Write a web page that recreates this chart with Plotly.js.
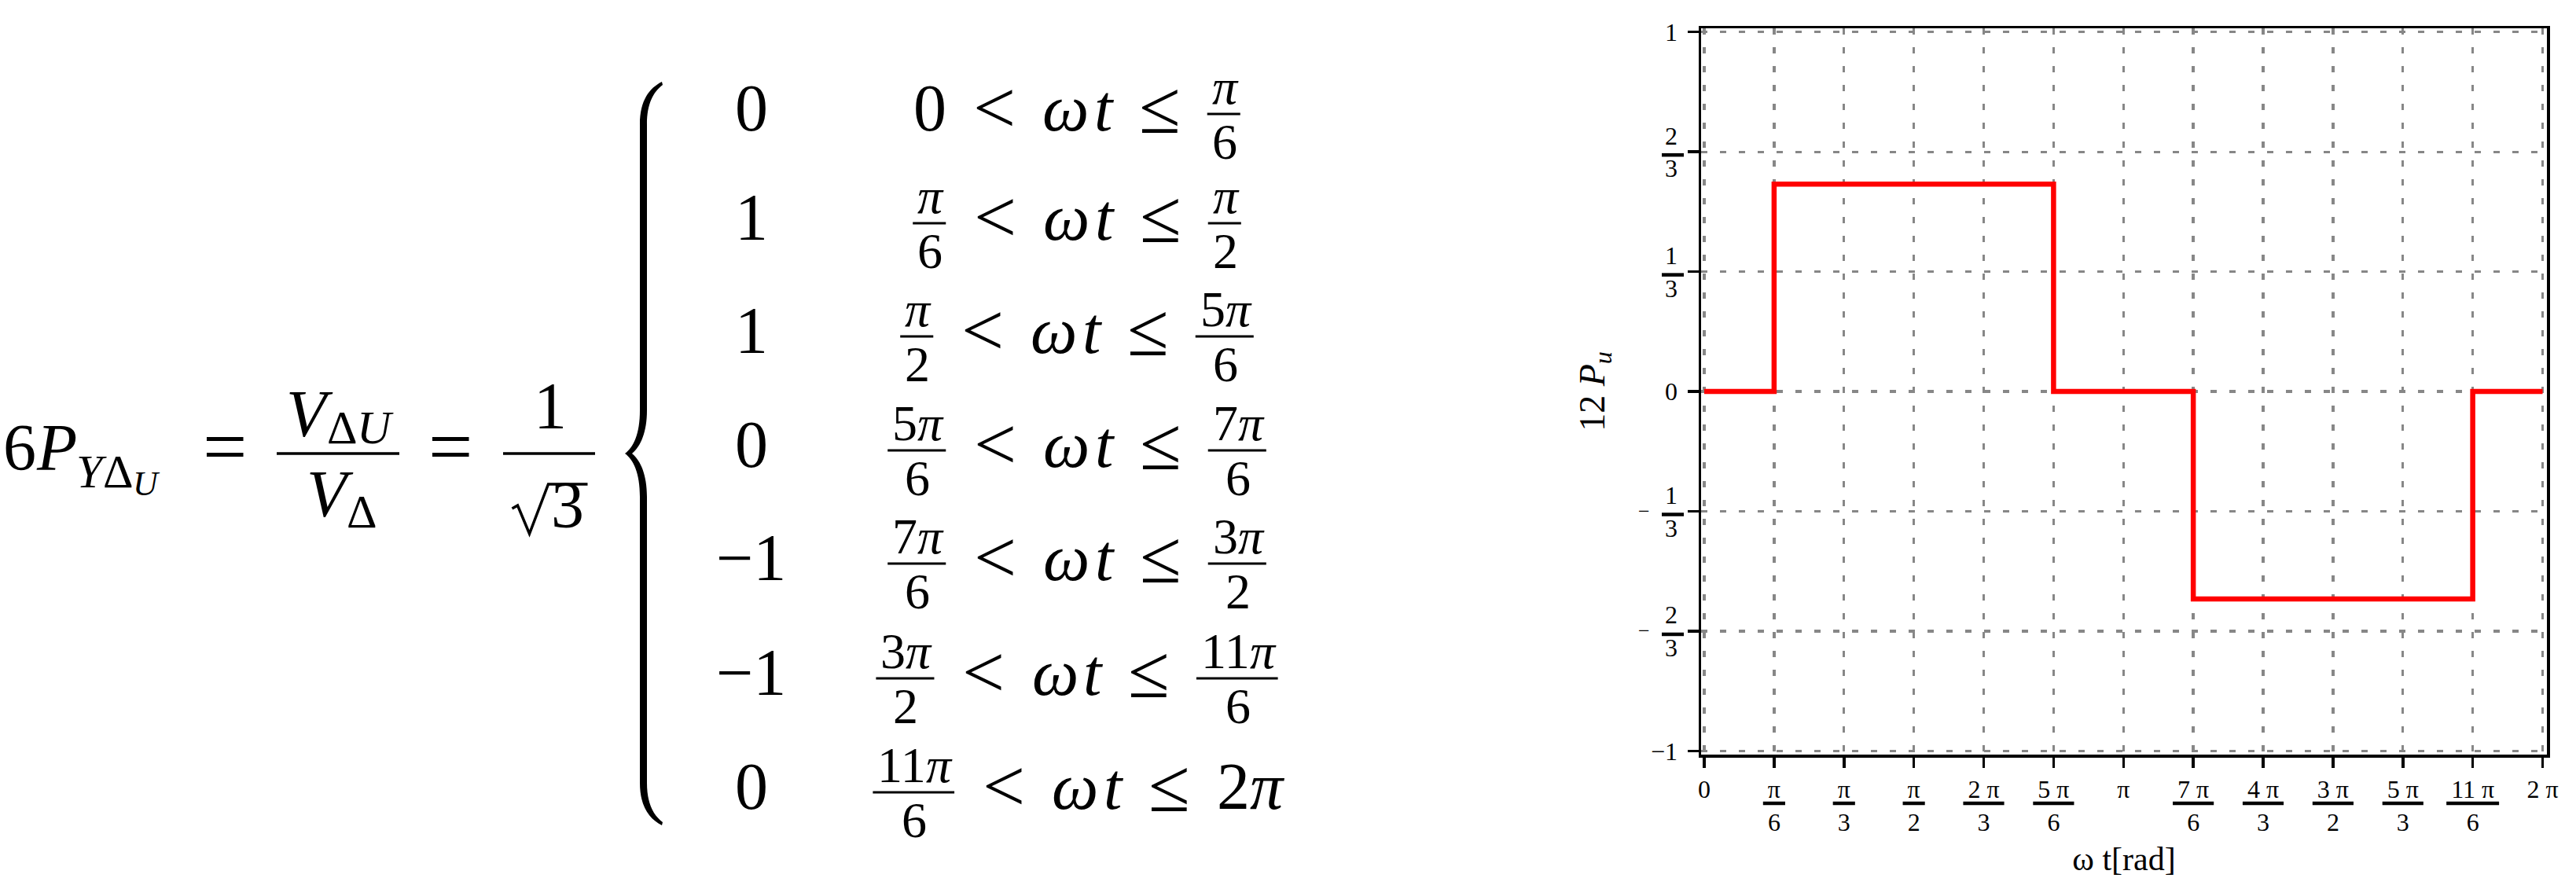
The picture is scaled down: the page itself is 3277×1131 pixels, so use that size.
<!DOCTYPE html>
<html>
<head>
<meta charset="utf-8">
<script src="https://cdn.plot.ly/plotly-3.0.1.min.js"></script>
<style>
html,body{margin:0;padding:0;background:#ffffff;}
#chart{width:3277px;height:1131px;}
</style>
</head>
<body>
<div id="chart"></div>
<script>
// ---------------- data ----------------
// step boundaries of ωt, in units of π
const segBoundsPi = [0, 1/6, 1/2, 5/6, 7/6, 3/2, 11/6, 2];
// 12·P_u (value held from each boundary to the next)
const stepValues = [0, 0.577, 0.577, 0, -0.577, -0.577, 0, 0];

// x ticks (units of π) and their stacked labels
const xTickVals = [0, 1/6, 1/3, 1/2, 2/3, 5/6, 1, 7/6, 4/3, 3/2, 5/3, 11/6, 2];
const xTickNum  = ['0', 'π', 'π', 'π', '2 π', '5 π', 'π', '7 π', '4 π', '3 π', '5 π', '11 π', '2 π'];
const xTickDen  = ['', '6', '3', '2', '3', '6', '', '6', '3', '2', '3', '6', ''];

// y ticks and their stacked labels
const yTickVals = [-1, -2/3, -1/3, 0, 1/3, 2/3, 1];
const yTickNum  = ['−1', '2', '1', '0', '1', '2', '1'];
const yTickDen  = ['', '3', '3', '', '3', '3', ''];
const yTickNeg  = [false, true, true, false, false, false, false];

// piecewise definition shown in the equation
const caseValues = ['0', '1', '1', '0', '−1', '−1', '0'];
const caseLowerNum = ['0', 'π', 'π', '5π', '7π', '3π', '11π'];
const caseLowerDen = ['', '6', '2', '6', '6', '2', '6'];
const caseUpperNum = ['π', 'π', '5π', '7π', '3π', '11π', '2π'];
const caseUpperDen = ['6', '2', '6', '6', '2', '6', ''];

// ---------------- helpers ----------------
const FONT = '"Liberation Serif", "Times New Roman", serif';
const L = 2164, T = 36, W = 1076, H = 924;          // plot area in page pixels
const X = px => (px - L) / W;
const Y = py => (T + H - py) / H;
const ctx = document.createElement('canvas').getContext('2d');
function tw(t, size, it) {
  ctx.font = (it ? 'italic ' : '') + size + 'px "Liberation Serif"';
  return ctx.measureText(t).width;
}
const ann = [];
const shp = [];
function put(t, x, base, size, it) {
  ann.push({
    xref: 'paper', yref: 'paper', x: X(x), y: Y(base - 0.3375 * size),
    xanchor: 'left', yanchor: 'middle', showarrow: false, borderpad: 0,
    text: it ? '<i>' + t + '</i>' : t,
    font: {family: FONT, size: size, color: '#000000'}
  });
  return tw(t, size, it);
}
function bar(x0, x1, y, w) {
  shp.push({type: 'line', xref: 'paper', yref: 'paper', x0: X(x0), x1: X(x1), y0: Y(y), y1: Y(y),
            line: {color: '#000000', width: w || 3}});
}
function pathPx(cmds, opts) {
  let s = '';
  cmds.forEach(c => {
    s += c[0];
    for (let i = 1; i < c.length; i += 2) s += ' ' + X(c[i]).toFixed(6) + ',' + Y(c[i + 1]).toFixed(6);
    s += ' ';
  });
  if (opts.close) s += 'Z';
  shp.push(Object.assign({type: 'path', xref: 'paper', yref: 'paper', path: s}, opts.style));
}
// split a math string into runs: latin / greek letters italic, others upright
function mathRuns(str, size, dy) {
  const runs = [];
  for (const ch of str) {
    const it = /[A-Za-z\u03b1-\u03c9]/.test(ch);
    const last = runs[runs.length - 1];
    if (last && last.it === it) last.t += ch;
    else runs.push({t: ch, s: size, it: it, dy: dy || 0});
  }
  return runs;
}
function runsWidth(runs) {
  return runs.reduce((a, r) => a + (r.gap || 0) + (r.t ? tw(r.t, r.s, r.it) : 0), 0);
}
function drawRuns(runs, x, base) {
  let cx = x;
  runs.forEach(r => {
    cx += r.gap || 0;
    if (r.t) cx += put(r.t, cx, base + (r.dy || 0), r.s, r.it);
  });
  return cx;
}

// ---------------- equation ----------------
const S = 84, SUB = 60, SUBSUB = 44, F = 64, REL = 96, EQ = 100;
const AXIS = 577, BASE = AXIS + 21;

// 6 P_{YΔ_U}
drawRuns([{t: '6', s: S}, {t: 'P', s: S, it: true}, {t: 'Y', s: SUB, it: true, dy: 22},
          {t: 'Δ', s: SUB, dy: 22}, {t: 'U', s: SUBSUB, it: true, dy: 32}], 3, BASE);
// =
(function () { const w = tw('=', EQ); put('=', 285 - w / 2, AXIS + 0.25 * EQ, EQ); })();
// V_{ΔU} / V_Δ
(function () {
  const num = [{t: 'V', s: S, it: true}, {t: 'Δ', s: SUB, dy: 9}, {t: 'U', s: SUB, it: true, dy: 9}];
  const den = [{t: 'V', s: S, it: true}, {t: 'Δ', s: SUB, dy: 14}];
  const c = 430, nw = runsWidth(num), dw = runsWidth(den);
  drawRuns(num, c - nw / 2, AXIS - 22);
  drawRuns(den, c - dw / 2 + 4, AXIS + 80);
  bar(352, 508, AXIS, 3.5);
})();
// =
(function () { const w = tw('=', EQ); put('=', 572 - w / 2, AXIS + 0.25 * EQ, EQ); })();
// 1 / sqrt(3)
(function () {
  const c = 698.5;
  const w1 = tw('1', S);
  put('1', c - w1 / 2, AXIS - 32, S);
  const w3 = tw('3', S);
  const rad = 46, tot = rad + w3 + 6;
  const x0 = c - tot / 2, bd = AXIS + 94;
  put('3', x0 + rad + 2, bd, S);
  pathPx([['M', x0, bd - 24], ['L', x0 + 7, bd - 28], ['L', x0 + 22, bd + 8], ['L', x0 + rad, bd - 55],
          ['L', x0 + tot + 2, bd - 55]],
         {style: {line: {color: '#000000', width: 3.5}, fillcolor: 'rgba(0,0,0,0)'}});
  bar(640, 757, AXIS, 3.5);
})();
// big brace
pathPx([['M', 842, 104], ['C', 826, 112, 814, 128, 814, 158], ['L', 814, 522],
        ['C', 814, 552, 806, 569, 795, 577], ['C', 806, 585, 814, 602, 814, 632], ['L', 814, 996],
        ['C', 814, 1026, 826, 1042, 842, 1050], ['L', 843, 1046],
        ['C', 831, 1037, 823, 1022, 823, 996], ['L', 823, 632],
        ['C', 823, 604, 815, 586, 804, 577], ['C', 815, 568, 823, 550, 823, 522], ['L', 823, 158],
        ['C', 823, 132, 831, 117, 843, 108]],
       {close: true, style: {line: {width: 0}, fillcolor: '#000000'}});

// rows of the cases
const rowAxis = [145, 284, 428, 573, 717, 863, 1008];
const COL1 = 955, COL2 = 1370, G = 34;
function piece(num, den) {
  if (!den) {
    const runs = mathRuns(num, S);
    return {w: runsWidth(runs), draw: (x, a) => drawRuns(runs, x, a + 21)};
  }
  const nr = mathRuns(num, F), dr = mathRuns(den, F);
  const nw = runsWidth(nr), dw = runsWidth(dr), w = Math.max(nw, dw) + 12;
  return {w: w, draw: (x, a) => {
    drawRuns(nr, x + (w - nw) / 2, a - 13);
    drawRuns(dr, x + (w - dw) / 2, a + 57);
    bar(x + 1, x + w - 1, a, 3);
  }};
}
function sym(t, it, size) {
  const sz = size || S;
  return {w: tw(t, sz, it), draw: (x, a) => put(t, x, a + 0.25 * sz, sz, it)};
}
for (let i = 0; i < rowAxis.length; i++) {
  const a = rowAxis[i];
  const vw = tw(caseValues[i], S);
  put(caseValues[i], COL1 - vw / 2, a + 21, S);
  const items = [piece(caseLowerNum[i], caseLowerDen[i]), {gap: G}, sym('<', false, REL), {gap: G},
                 sym('ω', true), {gap: 6}, sym('t', true), {gap: G}, sym('≤', false, REL), {gap: G},
                 piece(caseUpperNum[i], caseUpperDen[i])];
  const total = items.reduce((s, it) => s + (it.gap || it.w), 0);
  let x = COL2 - total / 2;
  items.forEach(it => {
    if (it.gap) { x += it.gap; return; }
    it.draw(x, a);
    x += it.w;
  });
}

// ---------------- chart ----------------
const xTickText = xTickNum.map((n, i) => xTickDen[i] ? n + '<br>' + xTickDen[i] : n);
const yTickText = yTickNum.map((n, i) => yTickDen[i] ? n + '<br>' + yTickDen[i] : n);

// fraction bars under stacked tick labels
xTickVals.forEach((v, i) => {
  if (!xTickDen[i]) return;
  const w = tw(xTickNum[i], 32) + 12;
  shp.push({type: 'line', xref: 'x', xsizemode: 'pixel', xanchor: v, x0: -w / 2, x1: w / 2,
            yref: 'paper', ysizemode: 'pixel', yanchor: 0, y0: -62, y1: -62,
            line: {color: '#000000', width: 4.5}});
});
yTickVals.forEach((v, i) => {
  if (!yTickDen[i]) return;
  shp.push({type: 'line', xref: 'paper', xsizemode: 'pixel', xanchor: 0, x0: -50, x1: -22,
            yref: 'y', ysizemode: 'pixel', yanchor: v, y0: -4, y1: -4,
            line: {color: '#000000', width: 4.5}});
  if (yTickNeg[i]) {
    ann.push({xref: 'paper', yref: 'y', x: 0, y: v, xshift: -73, yshift: 0,
              xanchor: 'center', yanchor: 'middle', showarrow: false, borderpad: 0,
              text: '−', font: {family: FONT, size: 26, color: '#000000'}});
  }
});

const trace = {
  type: 'scatter', mode: 'lines',
  x: segBoundsPi, y: stepValues,
  line: {shape: 'hv', color: '#ff0000', width: 6.5},
  hoverinfo: 'skip', showlegend: false
};

const axisCommon = {
  ticks: 'outside', tickcolor: '#000000', tickwidth: 3.5,
  showline: true, linecolor: '#000000', linewidth: 3.5, mirror: true,
  showgrid: true, gridcolor: '#878787', gridwidth: 3.3, griddash: '8px,16px',
  zeroline: false, fixedrange: true,
  tickfont: {family: FONT, size: 32, color: '#000000'}
};

const layout = {
  width: 3277, height: 1131,
  margin: {l: L, r: 3277 - L - W, t: T, b: 1131 - T - H, pad: 0},
  paper_bgcolor: '#ffffff', plot_bgcolor: '#ffffff',
  font: {family: FONT, color: '#000000'},
  showlegend: false,
  xaxis: Object.assign({}, axisCommon, {
    range: [-0.0075, 2.0103], tickmode: 'array', tickvals: xTickVals, ticktext: xTickText,
    ticklen: 13,
    title: {text: 'ω t[rad]', font: {family: FONT, size: 42, color: '#000000'}, standoff: 16}
  }),
  yaxis: Object.assign({}, axisCommon, {
    range: [-1.0100, 1.0103], tickmode: 'array', tickvals: yTickVals, ticktext: yTickText,
    ticklen: 14, ticklabelstandoff: 6,
    title: {text: '12 <i>P</i><sub><i>u</i></sub>', font: {family: FONT, size: 46, color: '#000000'}, standoff: 45}
  }),
  annotations: ann,
  shapes: shp
};

Plotly.newPlot('chart', [trace], layout, {displayModeBar: false, staticPlot: true});
</script>
</body>
</html>
